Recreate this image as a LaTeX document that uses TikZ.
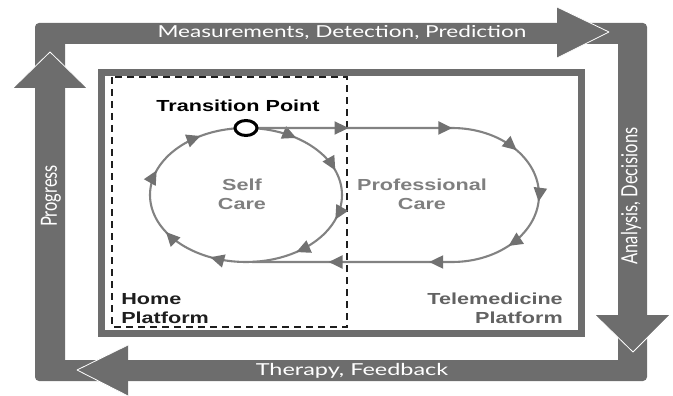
\documentclass[tikz,border=0pt]{standalone}
\usepackage{fontspec}
\setmainfont{Liberation Sans}
\newfontfamily\gillish{Lato}
\usetikzlibrary{arrows.meta,decorations.markings,shapes.geometric}
\definecolor{bar}{HTML}{6D6D6D}
\definecolor{loop}{HTML}{828282}
\definecolor{head}{HTML}{717171}
\definecolor{soft}{HTML}{7F7F7F}
\definecolor{tele}{HTML}{626262}
\definecolor{ink}{HTML}{1E1E1E}
\tikzset{
  flowtip/.tip={Triangle[length=14pt, width=13pt, color=head]},
  barlabel/.style={text=white, font=\gillish\fontsize{16.5}{16.5}\selectfont, inner sep=0pt},
  care/.style={text=soft, font=\bfseries\fontsize{16}{19}\selectfont, align=center, xscale=1.35},
  platform/.style={font=\bfseries\fontsize{16}{19}\selectfont, xscale=1.35, inner sep=0pt},
  loopline/.style={draw=loop, line width=2.1pt},
  flow/.style={postaction={decorate, decoration={markings, mark=at position #1 with {\arrow{flowtip}}}}},
  headedge/.style={draw=white, line width=0.8pt, line join=round},
  tpoint/.style={ellipse, draw=black, fill=white, line width=3pt, minimum width=22pt, minimum height=15pt, inner sep=0pt},
}
\begin{document}
\begin{tikzpicture}[x=1pt, y=-1pt]
\useasboundingbox (0,0) rectangle (673,396);
% outer cycle with its four heads
\fill[bar, even odd rule] [rounded corners=4pt] (35,23) rectangle (647,381) [sharp corners] (65,44) rectangle (618,360);
\fill[bar] (13,88) -- (50,52) -- (87,88) -- cycle;
\draw[headedge] (13,88) -- (50,52) -- (87,88);
\fill[bar] (557,7) -- (609,32) -- (557,58) -- cycle;
\draw[headedge] (557,7) -- (609,32) -- (557,58);
\fill[bar] (595,315) -- (633,352) -- (670,315) -- cycle;
\draw[headedge] (595,315) -- (633,352) -- (670,315);
\fill[bar] (128,345) -- (77,370) -- (128,396) -- cycle;
\draw[headedge] (128,345) -- (77,370) -- (128,396);
\node[barlabel, xscale=1.37] (meas) at (342,33) {Measurements, Detection, Prediction};
\node[barlabel, xscale=1.42] (ther) at (352,371) {Therapy, Feedback};
\node[barlabel, rotate=90, yscale=1.35] (prog) at (51,196) {Progress};
\node[barlabel, rotate=90, yscale=1.35] (ana) at (631,196) {Analysis, Decisions};
% platforms
\draw[bar, line width=7pt] (101,72.5) rectangle (581.5,333);
\draw[ink, line width=1.8pt, dash pattern=on 7pt off 5pt] (112,77) rectangle (347,327);
% care loops
\coordinate (tpc) at (246,128);
\draw[loopline, flow=0.10, flow=0.20, flow=0.30, flow=0.40, flow=0.57, flow=0.67, flow=0.80, flow=0.91]
  (tpc) arc[start angle=-90, end angle=270, x radius=96, y radius=67];
\draw[loopline, flow=0.158, flow=0.318, flow=0.425, flow=0.515, flow=0.60, flow=0.727, flow=0.882]
  (tpc) -- (452,128) arc[start angle=-90, end angle=90, x radius=87, y radius=67] -- (252,262);
\node[tpoint] (tp) at (tpc) {};
\node[platform, text=black] (tplabel) at (238,106) {Transition Point};
\node[care] (self) at (242,194) {Self\\Care};
\node[care] (pro) at (422,194) {Professional\\Care};
\node[platform, text=ink, align=left, anchor=west] (home) at (121,308.5) {Home\\Platform};
\node[platform, text=tele, align=right, anchor=east] (tele) at (563,308.5) {Telemedicine\\Platform};
\end{tikzpicture}
\end{document}
